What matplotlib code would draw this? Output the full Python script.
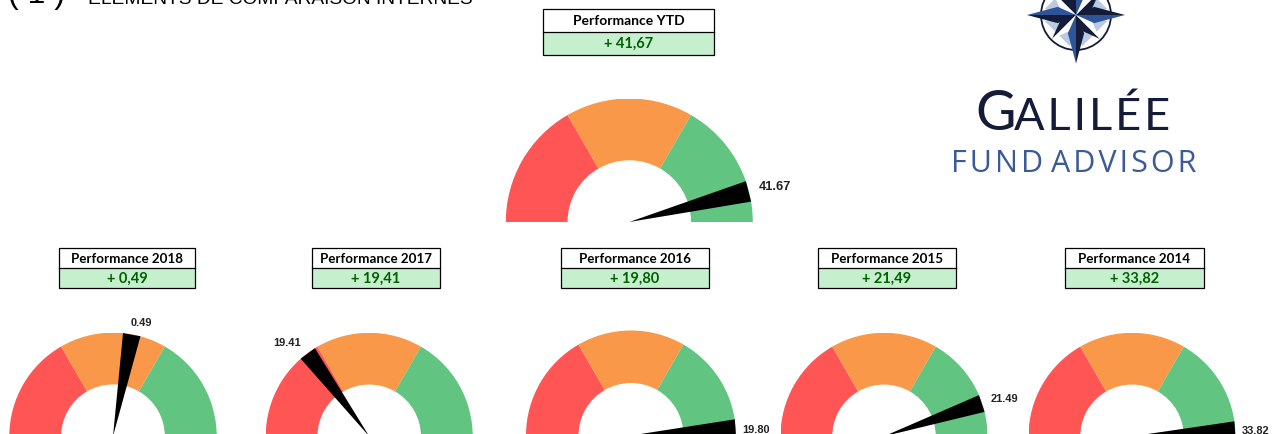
import numpy as np
import matplotlib
matplotlib.use("Agg")
import matplotlib.pyplot as plt
from matplotlib.patches import Wedge, Polygon, Rectangle, Circle

W, H = 1272, 434

# ---- data ----
titles = ["Performance YTD", "Performance 2018", "Performance 2017",
          "Performance 2016", "Performance 2015", "Performance 2014"]
table_values = ["+ 41,67", "+ 0,49", "+ 19,41", "+ 19,80", "+ 21,49", "+ 33,82"]
needle_labels = ["41.67", "0.49", "19.41", "19.80", "21.49", "33.82"]
# needle position read on each gauge's 0-100 half-circle scale
needle_positions = [92.0, 55.8, 29.7, 97.8, 89.7, 98.1]
zone_sizes = [100 / 3, 100 / 3, 100 / 3]
zone_colors = ["#FF5555", "#F89848", "#61C480"]

# ---- layout (pixels) ----
# gauge centre x, centre y, radius
gauges = [(629.3, 222, 123.5), (113, 436.3, 103.7), (369.2, 436.3, 103.5),
          (631, 435.5, 105), (884, 436.3, 103.5), (1132, 436.3, 103.5)]
# box left, right, top, divider, bottom
boxes = [(543.5, 714.5, 9.5, 32.5, 55.5), (59.5, 195.5, 248.5, 268.5, 288.5),
         (312.5, 440.5, 248.5, 268.5, 288.5), (561.5, 709.5, 248.5, 268.5, 288.5),
         (818.5, 956.5, 248.5, 268.5, 288.5), (1065.5, 1204.5, 248.5, 268.5, 288.5)]
needle_half_width = 4.9  # scale units
# needle label centre (pixels)
label_xy = [(774.5, 187.5), (141.5, 323), (287, 343), (756.5, 430), (1004, 399), (1256, 430.5)]

fig = plt.figure(figsize=(W / 100, H / 100), dpi=100, facecolor="white")
bg = fig.add_axes([0, 0, 1, 1])
bg.set_xlim(0, W)
bg.set_ylim(H, 0)
bg.axis("off")

BODY = ["Lato", "DejaVu Sans"]

# ---- gauges ----
for (cx, cy, R), pos, lab, (tx, ty) in zip(gauges, needle_positions, needle_labels, label_xy):
    ax = fig.add_axes([(cx - R) / W, 1 - cy / H, 2 * R / W, R / H])
    ax.set_xlim(-1, 1)
    ax.set_ylim(0, 1)
    ax.axis("off")
    start = 0.0
    for size, col in zip(zone_sizes, zone_colors):
        a0 = 180 - (start + size) * 1.8
        a1 = 180 - start * 1.8
        ax.add_patch(Wedge((0, 0), 1, a0, a1, width=0.5, facecolor=col, edgecolor="none"))
        start += size
    ang = np.radians(180 - pos * 1.8)
    d = np.radians(needle_half_width)
    ax.add_patch(Polygon([(0, 0), (np.cos(ang - d), np.sin(ang - d)),
                          (np.cos(ang + d), np.sin(ang + d))],
                         closed=True, facecolor="black", edgecolor="none", zorder=5))
    fs = 9.3 if R > 110 else 7.9
    bg.text(tx, ty, lab, ha="center", va="center", fontsize=fs, fontweight="bold",
            family="Liberation Sans", color="#222222", zorder=6)

# ---- boxes ----
for i, ((l, r, t, m, b), title, val) in enumerate(zip(boxes, titles, table_values)):
    l, r = l - 0.5, r - 0.5
    t, m, b = t - 0.5, m - 0.5, b - 0.5
    bg.add_patch(Rectangle((l, m), r - l, b - m, facecolor="#C6EFCE", edgecolor="none"))
    bg.add_patch(Rectangle((l, t), r - l, b - t, facecolor="none", edgecolor="black", lw=0.9))
    bg.plot([l, r], [m, m], color="black", lw=0.9)
    bg.text((l + r) / 2, (t + m) / 2 + 0.8, title, ha="center", va="center",
            fontsize=10 if i == 0 else 9.6,
            fontweight="bold", family=BODY, color="black")
    bg.text((l + r) / 2, (m + b) / 2 + 0.5, val, ha="center", va="center", fontsize=10.5,
            fontweight="bold", family=BODY, color="#006100")

# ---- cropped page heading ----
bg.text(88, 3.5, "ÉLÉMENTS DE COMPARAISON INTERNES", ha="left", va="baseline",
        fontsize=13.8, family="Liberation Sans", color="black")
bg.text(36, 3, "( 1 )", ha="center", va="baseline", fontsize=23,
        family="Liberation Sans", color="black")

# ---- logo ----
lx, ly = 1076, 15
DARK, BLUE, LIGHT = "#141C3A", "#2E5597", "#B8CBE3"
bg.add_patch(Circle((lx, ly), 35, facecolor="white", edgecolor=DARK, lw=1.3))
for k in range(4):
    a = np.radians(45 + 90 * k)
    pts = [(lx, ly)]
    for off in (-0.6, 0.6):
        pts.append((lx + 32 * np.cos(a + off), ly + 32 * np.sin(a + off)))
    bg.add_patch(Polygon(pts, closed=True, facecolor=LIGHT, edgecolor="none"))
for k in range(4):
    a = np.radians(45 + 90 * k)
    tip = (lx + 34 * np.cos(a), ly + 34 * np.sin(a))
    p1 = (lx + 13 * np.cos(a + 0.8), ly + 13 * np.sin(a + 0.8))
    p2 = (lx + 13 * np.cos(a - 0.8), ly + 13 * np.sin(a - 0.8))
    bg.add_patch(Polygon([(lx, ly), tip, p1], closed=True, facecolor=DARK, edgecolor="none", zorder=2))
    bg.add_patch(Polygon([(lx, ly), tip, p2], closed=True, facecolor="white", edgecolor="none", zorder=2))
for k, length in enumerate([49, 48.5, 49, 48.5]):
    a = np.radians(90 * k)
    tip = (lx + length * np.cos(a), ly + length * np.sin(a))
    p1 = (lx + 20 * np.cos(a + 0.42), ly + 20 * np.sin(a + 0.42))
    p2 = (lx + 20 * np.cos(a - 0.42), ly + 20 * np.sin(a - 0.42))
    bg.add_patch(Polygon([(lx, ly), p2, tip], closed=True, facecolor=DARK, edgecolor="none", zorder=3))
    bg.add_patch(Polygon([(lx, ly), p1, tip], closed=True, facecolor=BLUE, edgecolor="none", zorder=3))
bg.text(975, 130, "G", ha="left", va="baseline", fontsize=40, family="Lato", color=DARK)
bg.text(1014, 130, "A\u200aL\u200aI\u200aL\u200aÉ\u200aE", ha="left", va="baseline", fontsize=32.5, family="Lato", color=DARK)
bg.text(1074, 172, "F\u200aU\u200aN\u200aD A\u200aD\u200aV\u200aI\u200aS\u200aO\u200aR", ha="center", va="baseline",
        fontsize=22, family="Open Sans", color="#3A5A98")

fig.savefig("out.png", dpi=100, facecolor="white")
